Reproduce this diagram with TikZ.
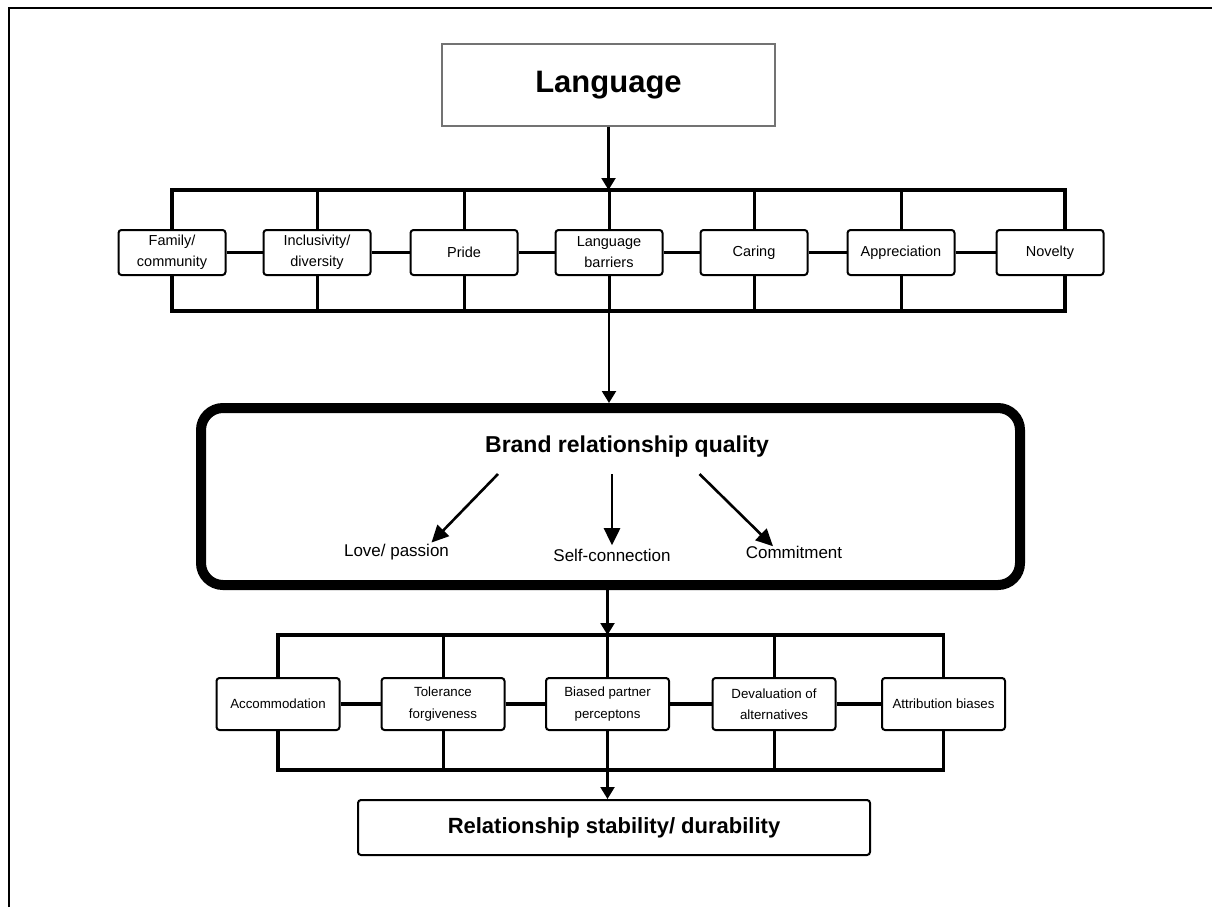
\documentclass[tikz,border=0pt]{standalone}
\usepackage{fontspec}
\setmainfont{Liberation Sans}
\usetikzlibrary{arrows.meta,calc,positioning}

\tikzset{
    item/.style={draw, fill=white, line width=2pt, rounded corners=3pt, align=center, inner sep=2pt,
        minimum width=107pt, minimum height=45pt, font=\fontsize{14.5}{21}\selectfont},
    itemb/.style={item, minimum width=123pt, minimum height=52pt, font=\fontsize{13.3}{21.5}\selectfont},
    bus/.style={line width=3.4pt},
    stub/.style={line width=3pt},
    arr/.style={line width=2.2pt, -{Triangle[length=12pt,width=14pt]}},
    bigarr/.style={line width=2.6pt, -{Triangle[length=17pt,width=16pt]}},
}

\begin{document}
\begin{tikzpicture}[x=1pt,y=-1pt]
    \useasboundingbox (0,0) rectangle (1212,907);
    \draw[line width=1.2pt] (9,907) -- (9,8) -- (1212,8);

    \node[draw=black!55, line width=1.2pt, minimum width=333pt, minimum height=82pt,
        font=\fontsize{31}{36}\selectfont\bfseries] (lang) at (608.5,85) {Language};

    \coordinate (b1ne) at (1065,190);
    \coordinate (b1se) at (1065,311);
    \node[item] (fam) at (172,252.5) {Family/\\community};
    \node[item] (inc) at (317,252.5) {Inclusivity/\\diversity};
    \node[item] (pri) at (464,252.5) {Pride};
    \node[item] (lba) at (609,252.5) {Language\\barriers};
    \node[item] (car) at (754,252.5) {Caring};
    \node[item] (app) at (901,252.5) {Appreciation};
    \node[item] (nov) at (1050,252.5) {Novelty};

    \draw[bus] (fam.north) |- (b1ne) -- (nov.north -| b1ne);
    \draw[bus] (fam.south) |- (b1se) -- (nov.south -| b1se);
    \foreach \n in {inc,pri,lba,car,app}
        \draw[stub] (\n.north) -- (\n.north |- b1ne) (\n.south) -- (\n.south |- b1se);
    \foreach \a/\b in {fam/inc,inc/pri,pri/lba,lba/car,car/app,app/nov}
        \draw[bus] (\a) -- (\b);
    \draw[arr] (lang) -- (lang |- b1ne);

    \node[draw, line width=10pt, rounded corners=22pt, minimum width=819pt, minimum height=177pt] (brbox) at (610.5,496.5) {};
    \draw[arr] (lba.south |- b1se) -- (lba.south |- brbox.north);

    \node[font=\fontsize{23}{27}\selectfont\bfseries] (brq) at (627,447) {Brand relationship quality};
    \node[font=\fontsize{17}{20}\selectfont] (love) at (396.5,552) {Love/ passion};
    \node[font=\fontsize{17}{20}\selectfont] (self) at (612,555) {Self-connection};
    \node[font=\fontsize{17}{20}\selectfont] (commit) at (794,552) {Commitment};
    \coordinate (fromL) at (498,474);
    \coordinate (fromR) at (699.5,474);
    \draw[bigarr] (fromL) -- ($(love.north)+(35,2)$);
    \draw[bigarr] (self.north |- fromL) -- (self.north);
    \draw[bigarr] (fromR) -- ($(commit.north)+(-21,4)$);

    \coordinate (b2ne) at (943.5,635);
    \coordinate (b2se) at (943.5,770);
    \node[itemb] (acc) at (278,704) {Accommodation};
    \node[itemb] (tol) at (443,704) {Tolerance\\forgiveness};
    \node[itemb] (bia) at (607.5,704) {Biased partner\\perceptons};
    \node[itemb] (dev) at (774,704) {Devaluation of\\alternatives};
    \node[itemb] (att) at (943.5,704) {Attribution biases};

    \draw[bus] (acc.north) |- (b2ne) -- (att.north);
    \draw[bus] (acc.south) |- (b2se) -- (att.south);
    \foreach \n in {tol,bia,dev}
        \draw[stub] (\n.north) -- (\n.north |- b2ne) (\n.south) -- (\n.south |- b2se);
    \foreach \a/\b in {acc/tol,tol/bia,bia/dev,dev/att}
        \draw[bus] (\a) -- (\b);
    \draw[arr] (bia.north |- brbox.south) -- (bia.north |- b2ne);

    \node[item, minimum width=512pt, minimum height=55pt, font=\fontsize{22}{26}\selectfont\bfseries] (rel) at (614,827.5)
        {Relationship stability/ durability};
    \draw[arr] (bia.south |- b2se) -- (bia.south |- rel.north);
\end{tikzpicture}
\end{document}
